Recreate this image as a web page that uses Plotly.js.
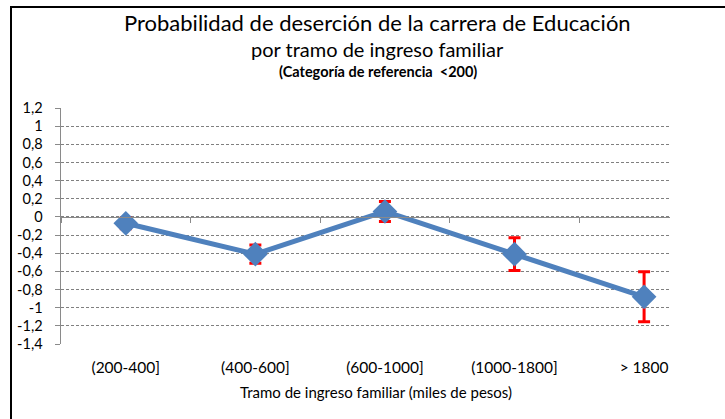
<!DOCTYPE html>
<html>
<head>
<meta charset="utf-8">
<script src="https://cdn.plot.ly/plotly-3.0.1.min.js"></script>
<style>
html,body{margin:0;padding:0;background:#fff;}
#chart{width:725px;height:419px;position:relative;}
#frame{position:absolute;left:10px;top:6px;width:715px;height:413px;border-left:2px solid #000;border-top:2px solid #000;pointer-events:none;box-sizing:border-box;}
</style>
</head>
<body>
<div id="chart"></div>
<div id="frame"></div>
<script>
var categories = ["(200-400]", "(400-600]", "(600-1000]", "(1000-1800]", "> 1800"];
var values = [-0.07, -0.41, 0.06, -0.41, -0.88];
var errors = [0.06, 0.10, 0.11, 0.18, 0.275];
var yTickVals = [1.2, 1, 0.8, 0.6, 0.4, 0.2, 0, -0.2, -0.4, -0.6, -0.8, -1, -1.2, -1.4];
var yTickText = ["1,2", "1", "0,8", "0,6", "0,4", "0,2", "0", "-0,2", "-0,4", "-0,6", "-0,8", "-1", "-1,2", "-1,4"];
var titleLines = ["Probabilidad de deserción de la carrera de Educación", "por tramo de ingreso familiar", "(Categoría de referencia  <200)"];
var xTitle = "Tramo de ingreso familiar (miles de pesos)";

var FONT = "Lato, 'Open Sans', sans-serif";
var yMin = -1.4, yMax = 1.2;

var trace = {
  x: categories,
  y: values,
  type: "scatter",
  mode: "lines+markers",
  line: {color: "#4F81BD", width: 5},
  marker: {symbol: "diamond", size: 19, color: "#4F81BD"},
  error_y: {type: "data", array: errors, visible: true, color: "#FF0000", thickness: 3, width: 6},
  hoverinfo: "x+y",
  showlegend: false
};

var layout = {
  width: 725, height: 419,
  margin: {l: 61, r: 55, t: 108, b: 75},
  paper_bgcolor: "#fff", plot_bgcolor: "#fff",
  font: {family: FONT, color: "#000", size: 15},
  xaxis: {
    type: "category",
    range: [-0.5, 4.2],
    showgrid: false, zeroline: false, showline: false,
    ticks: "", ticklabelstandoff: 12,
    tickfont: {size: 15.5, family: FONT, color: "#000"}
  },
  xaxis2: {
    type: "category",
    overlaying: "x",
    matches: "x",
    anchor: "free",
    position: (0 - yMin) / (yMax - yMin),
    showline: true, linecolor: "#8a8a8a", linewidth: 1.5,
    ticks: "outside", ticklen: 5, tickcolor: "#8a8a8a", tickwidth: 1,
    tickson: "boundaries",
    showticklabels: false, showgrid: false, zeroline: false
  },
  yaxis: {
    range: [yMin, yMax],
    tickvals: yTickVals, ticktext: yTickText,
    showgrid: true, gridcolor: "#808080", griddash: "3px,2px", gridwidth: 1,
    zeroline: false,
    showline: true, linecolor: "#8a8a8a", linewidth: 1.5,
    ticks: "outside", ticklen: 5, tickcolor: "#8a8a8a",
    ticklabelstandoff: 9,
    tickfont: {size: 14.5, family: FONT, color: "#000"}
  },
  annotations: [
    {text: titleLines[0], xref: "paper", yref: "paper", x: 0.52, y: 1.362, showarrow: false, font: {size: 22, family: FONT, color: "#000"}, xanchor: "center", yanchor: "middle"},
    {text: titleLines[1], xref: "paper", yref: "paper", x: 0.52, y: 1.248, showarrow: false, font: {size: 20, family: FONT, color: "#000"}, xanchor: "center", yanchor: "middle"},
    {text: titleLines[2], xref: "paper", yref: "paper", x: 0.52, y: 1.154, showarrow: false, font: {size: 14.5, family: FONT, weight: "bold", color: "#000"}, xanchor: "center", yanchor: "middle"},
    {text: xTitle, xref: "paper", yref: "paper", x: 0.518, y: -0.204, showarrow: false, font: {size: 15, family: FONT, color: "#000"}, xanchor: "center", yanchor: "middle"}
  ]
};

var ghost = {x: categories, y: values, xaxis: "x2", yaxis: "y", type: "scatter", mode: "none", hoverinfo: "skip", showlegend: false};

Plotly.newPlot("chart", [ghost, trace], layout, {displayModeBar: false, staticPlot: true});
</script>
</body>
</html>
